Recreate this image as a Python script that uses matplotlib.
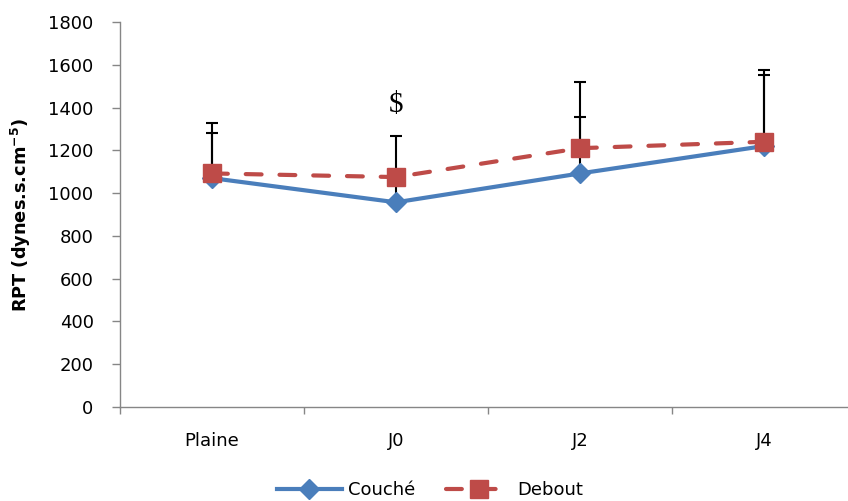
import matplotlib
matplotlib.use("Agg")
import matplotlib.pyplot as plt
import numpy as np

categories = ["Plaine", "J0", "J2", "J4"]
couche = [1070, 957, 1092, 1220]
couche_err = [210, 120, 262, 332]
debout = [1092, 1075, 1210, 1240]
debout_err = [234, 192, 311, 334]
yticks = [0, 200, 400, 600, 800, 1000, 1200, 1400, 1600, 1800]

plt.rcParams['font.family'] = ['DejaVu Sans']
plt.rcParams['mathtext.fontset'] = 'dejavusans'

fig = plt.figure(figsize=(8.48, 5.01), dpi=100)
ax = fig.add_axes([120/848, 1-407/501, 736/848, 385/501])

x = np.arange(len(categories))
blue = '#4A7EBB'
red = '#BE4B48'

ax.errorbar(x, couche, yerr=[np.zeros(4), couche_err], fmt='none', ecolor='black',
            elinewidth=1.5, capsize=4.5, capthick=1.5, zorder=2)
ax.errorbar(x, debout, yerr=[np.zeros(4), debout_err], fmt='none', ecolor='black',
            elinewidth=1.5, capsize=4.5, capthick=1.5, zorder=2)
ax.plot(x, couche, color=blue, lw=3, marker='D', markersize=10, label='Couché', zorder=3)
ax.plot(x, debout, color=red, lw=3, ls=(0, (3.8, 4.3)), dash_capstyle='round',
        marker='s', markersize=13.5, label='Debout', zorder=4)

ax.text(1, 1412, '$', family='Liberation Serif', fontsize=21, ha='center', va='center')

ax.set_xlim(-0.5, 3.5)
ax.set_ylim(0, 1800)
ax.set_yticks(yticks)
ax.set_xticks([-0.5, 0.5, 1.5, 2.5])
ax.set_xticklabels([])
ax.set_xticks(x, minor=True)
ax.set_xticklabels(categories, minor=True)
ax.tick_params(axis='x', which='minor', length=0, pad=18, labelsize=13)
ax.tick_params(axis='x', which='major', length=5, direction='out', color='#868686', width=1)
ax.tick_params(axis='y', length=6, direction='out', color='#868686', width=1, labelsize=13, pad=13)

for s in ['top', 'right']:
    ax.spines[s].set_visible(False)
for s in ['left', 'bottom']:
    ax.spines[s].set_color('#868686')
    ax.spines[s].set_linewidth(1)

ax.set_ylabel(r'RPT (dynes.s.cm$^{\mathbf{-5}}$)', fontsize=12.8, fontweight='bold')
ax.yaxis.set_label_coords(-0.118, 0.5)

leg = fig.legend(loc='center', bbox_to_anchor=(430/848, 1-490/501), ncol=2, frameon=False,
                 fontsize=13, handlelength=3.6, columnspacing=1.7, handletextpad=0.35)

fig.savefig('out.png', dpi=100)
